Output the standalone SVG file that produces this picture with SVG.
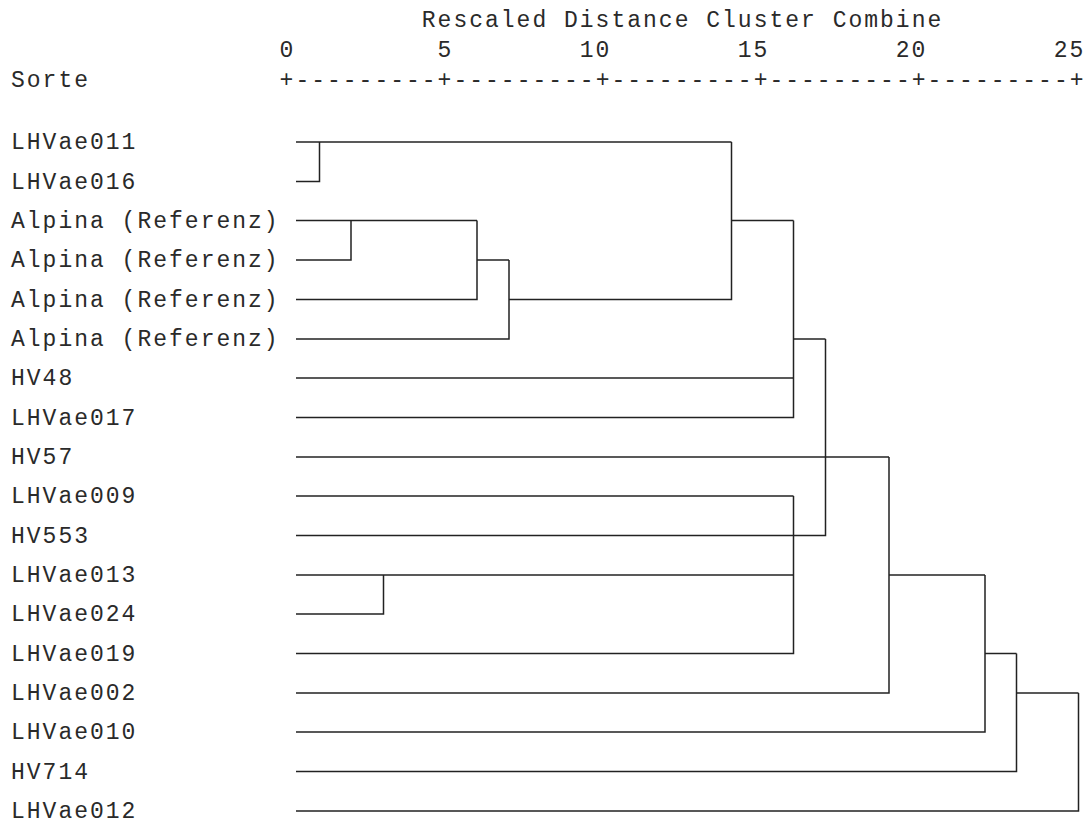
<svg xmlns="http://www.w3.org/2000/svg" width="1089" height="825" viewBox="0 0 1089 825">
<style>
.t{font-family:"Liberation Mono","Courier New",monospace;font-size:23px;letter-spacing:2px;fill:#2a2a2a}
.c{fill:none;stroke:#222;stroke-width:1.5}
</style>
<rect width="1089" height="825" fill="#fff"/>
<g id="header">
<text class="t" x="421.8" y="26.5">Rescaled Distance Cluster Combine</text>
<text class="t" x="279.6" y="56.5">0</text>
<text class="t" x="437.6" y="56.5">5</text>
<text class="t" x="579.8" y="56.5">10</text>
<text class="t" x="737.8" y="56.5">15</text>
<text class="t" x="895.8" y="56.5">20</text>
<text class="t" x="1053.8" y="56.5">25</text>
<text class="t" x="11" y="86.5">Sorte</text>
<text class="t" x="279.6" y="86.5">+---------+---------+---------+---------+---------+</text>
</g>
<g id="n-LHVae011"><text class="t" x="11" y="149">LHVae011</text></g>
<g id="n-LHVae016"><text class="t" x="11" y="188.5">LHVae016</text></g>
<g id="n-Alpina1"><text class="t" x="11" y="227.5">Alpina (Referenz)</text></g>
<g id="n-Alpina2"><text class="t" x="11" y="267">Alpina (Referenz)</text></g>
<g id="n-Alpina3"><text class="t" x="11" y="306.5">Alpina (Referenz)</text></g>
<g id="n-Alpina4"><text class="t" x="11" y="346">Alpina (Referenz)</text></g>
<g id="n-HV48"><text class="t" x="11" y="385">HV48</text></g>
<g id="n-LHVae017"><text class="t" x="11" y="424.5">LHVae017</text></g>
<g id="n-HV57"><text class="t" x="11" y="464">HV57</text></g>
<g id="n-LHVae009"><text class="t" x="11" y="503">LHVae009</text></g>
<g id="n-HV553"><text class="t" x="11" y="542.5">HV553</text></g>
<g id="n-LHVae013"><text class="t" x="11" y="582">LHVae013</text></g>
<g id="n-LHVae024"><text class="t" x="11" y="621">LHVae024</text></g>
<g id="n-LHVae019"><text class="t" x="11" y="660.5">LHVae019</text></g>
<g id="n-LHVae002"><text class="t" x="11" y="700">LHVae002</text></g>
<g id="n-LHVae010"><text class="t" x="11" y="739">LHVae010</text></g>
<g id="n-HV714"><text class="t" x="11" y="778.5">HV714</text></g>
<g id="n-LHVae012"><text class="t" x="11" y="818">LHVae012</text></g>
<g id="connectors">
<path class="c" d="M296 142H731.5"/>
<path class="c" d="M296 181.5H319.5V142"/>
<path class="c" d="M296 220.5H477"/>
<path class="c" d="M296 260H351V220.5"/>
<path class="c" d="M296 299.5H477V220.5"/>
<path class="c" d="M477 260H509"/>
<path class="c" d="M296 339H509V260"/>
<path class="c" d="M509 299.5H731.5V142"/>
<path class="c" d="M731.5 220.5H793.5"/>
<path class="c" d="M296 378H793.5"/>
<path class="c" d="M296 417.5H793.5V220.5"/>
<path class="c" d="M793.5 339H825.5"/>
<path class="c" d="M296 457H889"/>
<path class="c" d="M296 496H793.5"/>
<path class="c" d="M296 535.5H825.5V339"/>
<path class="c" d="M296 575H793.5"/>
<path class="c" d="M296 614H383.5V575"/>
<path class="c" d="M296 653.5H793.5V496"/>
<path class="c" d="M296 693H889V457"/>
<path class="c" d="M889 575H985"/>
<path class="c" d="M296 732H985V575"/>
<path class="c" d="M985 653.5H1016.5"/>
<path class="c" d="M296 771.5H1016.5V653.5"/>
<path class="c" d="M1016.5 693H1078.5"/>
<path class="c" d="M296 811H1078.5V693"/>
</g>
</svg>
